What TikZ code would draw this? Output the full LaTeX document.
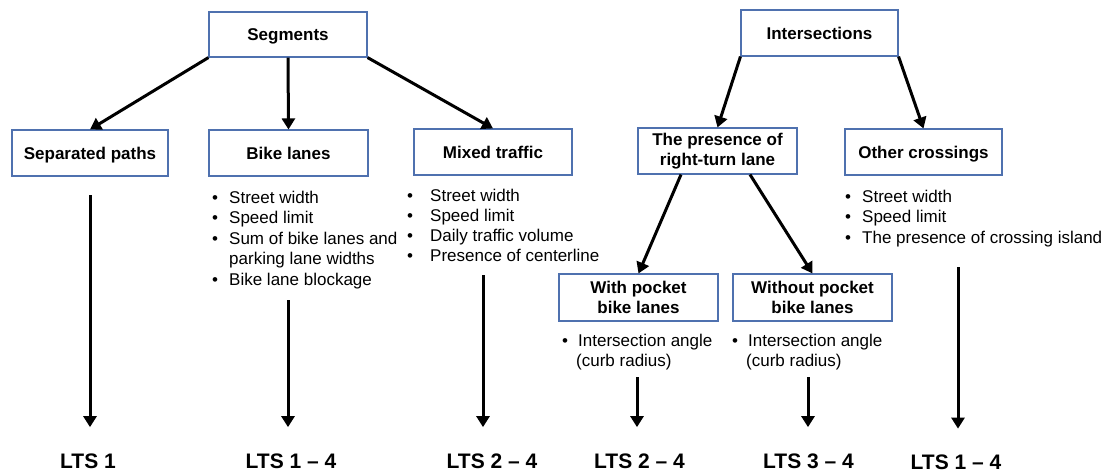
\documentclass[tikz,border=0pt]{standalone}
\usepackage{fontspec}
\setmainfont{Liberation Sans}
\usetikzlibrary{arrows.meta}
\definecolor{boxblue}{RGB}{79,113,175}
\newcommand{\bul}[1]{\makebox[#1][l]{\textbullet}}
\begin{document}
\begin{tikzpicture}[x=1pt,y=-1pt,
  box/.style={draw=boxblue, line width=1.1pt, fill=white, inner sep=0pt,
    font=\fontsize{17}{20}\selectfont\bfseries, align=center},
  one/.style={text height=12.2pt, text depth=0pt},
  arr/.style={line width=3pt, -{Triangle[length=11pt,width=13pt]}},
  lst/.style={inner sep=0pt, anchor=base west},
  lts/.style={font=\fontsize{21}{24}\selectfont\bfseries, inner sep=0pt, anchor=base}]
\useasboundingbox[fill=white] (0,0) rectangle (1107,472);

% category boxes
\node[box,one,minimum width=158pt,minimum height=45pt] (seg) at (288,34.5) {Segments};
\node[box,one,minimum width=157pt,minimum height=46pt] (int) at (819.5,33) {Intersections};
\node[box,one,minimum width=156pt,minimum height=46pt] (sep) at (90,153) {Separated paths};
\node[box,one,minimum width=159pt,minimum height=46pt] (bike) at (288.5,153) {Bike lanes};
\node[box,one,minimum width=158pt,minimum height=46pt] (mix) at (493,152) {Mixed traffic};
\node[box,minimum width=159pt,minimum height=46pt] (rt) at (717.5,151) {The presence of\\right-turn lane};
\node[box,one,minimum width=157pt,minimum height=46pt] (oc) at (923.5,152) {Other crossings};
\node[box,minimum width=159pt,minimum height=47pt] (wp) at (638.5,297.5) {With pocket\\bike lanes};
\node[box,minimum width=159pt,minimum height=47pt] (wop) at (812.5,297.5) {Without pocket\\bike lanes};

% tree connectors
\draw[arr] (seg.south west) -- (sep.north);
\draw[arr] (seg.south) -- (bike.north);
\draw[arr] (seg.south east) -- (mix.north);
\draw[arr] (int.south west) -- (rt.north);
\draw[arr] (int.south east) -- (oc.north);
\draw[arr] ([xshift=-36.5pt]rt.south) -- (wp.north);
\draw[arr] ([xshift=32.5pt]rt.south) -- (wop.north);

% criteria lists
\node[lst, font=\fontsize{17}{20.5}\selectfont] (bikelist) at (212,203) {\begin{tabular}[t]{@{}l@{}}
\bul{17pt}Street width\\
\bul{17pt}Speed limit\\
\bul{17pt}Sum of bike lanes and\\
\hspace*{17pt}parking lane widths\\
\bul{17pt}Bike lane blockage
\end{tabular}};
\node[lst, font=\fontsize{17}{20.2}\selectfont] (mixlist) at (407,201) {\begin{tabular}[t]{@{}l@{}}
\bul{23pt}Street width\\
\bul{23pt}Speed limit\\
\bul{23pt}Daily traffic volume\\
\bul{23pt}Presence of centerline
\end{tabular}};
\node[lst, font=\fontsize{17}{20.5}\selectfont] (oclist) at (845,202) {\begin{tabular}[t]{@{}l@{}}
\bul{17pt}Street width\\
\bul{17pt}Speed limit\\
\bul{17pt}The presence of crossing island
\end{tabular}};
\node[lst, font=\fontsize{17}{20}\selectfont] (wplist) at (562,346) {\begin{tabular}[t]{@{}l@{}}
\bul{16pt}Intersection angle\\
\hspace*{14pt}(curb radius)
\end{tabular}};
\node[lst, font=\fontsize{17}{20}\selectfont] (woplist) at (732,346) {\begin{tabular}[t]{@{}l@{}}
\bul{16pt}Intersection angle\\
\hspace*{14pt}(curb radius)
\end{tabular}};

% stress levels
\node[lts] (l1) at (88,468) {LTS 1};
\node[lts] (l2) at (291,468) {LTS 1 – 4};
\node[lts] (l3) at (492,468) {LTS 2 – 4};
\node[lts] (l4) at (639.5,468) {LTS 2 – 4};
\node[lts] (l5) at (808.5,468) {LTS 3 – 4};
\node[lts] (l6) at (956,469.5) {LTS 1 – 4};

\coordinate (s1) at (90,195);
\coordinate (s2) at (288,300);
\coordinate (s3) at (483,275);
\coordinate (s4) at (637,377);
\coordinate (s5) at (808,377);
\coordinate (s6) at (958,267);
\foreach \i in {1,...,6}
  \draw[arr, shorten >=26pt] (s\i) -- (s\i |- l\i.north);
\end{tikzpicture}
\end{document}
